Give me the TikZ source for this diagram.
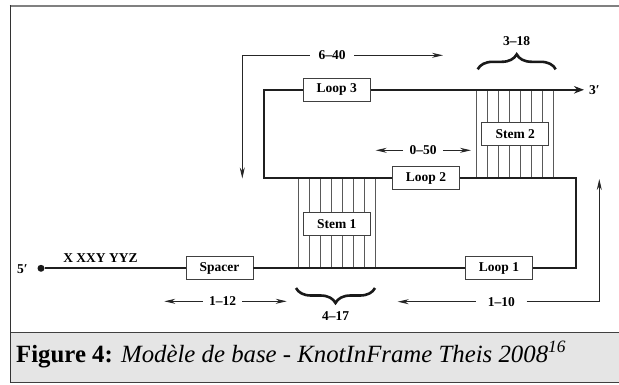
\documentclass[tikz,border=0pt]{standalone}
\usepackage{fontspec}
\setmainfont{Liberation Serif}
\usetikzlibrary{arrows.meta,decorations.pathreplacing}
\begin{document}
\begin{tikzpicture}[x=1pt,y=-1pt,
  box/.style={draw=black!75,line width=0.9pt,fill=white,minimum width=67pt,minimum height=23pt,inner sep=0pt,font=\fontsize{13.5}{14}\selectfont\bfseries},
  lbl/.style={font=\fontsize{13.5}{14}\selectfont\bfseries,inner ysep=1pt},
  strand/.style={line width=1.7pt,black!88},
  stemline/.style={line width=0.9pt,black!65},
  dim/.style={line width=0.9pt,black!85},
  tipS/.style={-{Stealth[length=11pt,width=5pt]}},
  tipB/.style={-{Stealth[length=10pt,width=7.5pt]}},
  bracestyle/.style={line width=2.6pt,black!90,decorate,decoration={brace,amplitude=15pt}}
]
\useasboundingbox (0,0) rectangle (619,384);
% frame and caption band
\fill[black!10] (10.3,332.7) rectangle (619,382.3);
\draw[line width=1.2pt,black!75] (10.3,332.7) -- (619,332.7);
\draw[line width=1.2pt,black!75] (10.3,382.3) -- (619,382.3);
\draw[line width=2pt,black!50] (9.5,5.7) -- (619,5.7);
\draw[line width=1.4pt,black!80] (10.3,5) -- (10.3,383);
\node[anchor=base west,inner sep=0pt,font=\fontsize{24.8}{26}\selectfont] (cap) at (16,362)
  {\textbf{Figure 4:} \textit{Modèle de base - KnotInFrame Theis 2008\textsuperscript{16}}};
% stem lines
\foreach \i in {0,...,7} {
  \draw[stemline] ({298.3+11*\i},178.3) -- ({298.3+11*\i},268.3);
  \draw[stemline] ({476.7+11*\i},89.8) -- ({476.7+11*\i},178.3);
}
% boxes
\node[box] (spacer) at (219.5,268.3) {Spacer};
\node[box] (loop1) at (499,268.3) {Loop 1};
\node[box] (loop2) at (426,178.3) {Loop 2};
\node[box] (loop3) at (336.7,89.8) {Loop 3};
\node[box] (stem1) at (336.8,223.7) {Stem 1};
\node[box] (stem2) at (515.3,134.2) {Stem 2};
% strand
\node[circle,fill=black!90,inner sep=0pt,minimum size=7pt] (dot) at (41,268.3) {};
\coordinate (cBR) at (576.3,268.3);
\coordinate (cMR) at (576.3,178.3);
\coordinate (cML) at (264,178.3);
\coordinate (cTL) at (264,89.8);
\coordinate (end3) at (584,89.8);
\draw[strand] (dot) -- (spacer);
\draw[strand] (spacer) -- (loop1);
\draw[strand,line join=miter] (loop1) -- (cBR) -- (cMR) -- (loop2);
\draw[strand,line join=miter] (loop2) -- (cML) -- (cTL) -- (loop3);
\draw[strand,tipB] (loop3) -- (end3);
\node[lbl] (p5) at (22.5,268.8) {5′};
\node[lbl] (p3) at (594.5,89.8) {3′};
\node[lbl,anchor=base] (seq) at (100.5,262) {X XXY YYZ};
% dimensions
\node[lbl,inner xsep=8.5pt] (d640) at (332,55.3) {6–40};
\coordinate (d640a) at (242.3,178.5);
\coordinate (d640b) at (443,55.3);
\draw[dim,tipS] (d640.west) -| (d640a);
\draw[dim,tipS] (d640.east) -- (d640b);
\node[lbl,inner xsep=6.2pt] (d050) at (423,150.3) {0–50};
\coordinate (d050a) at (375.7,150.3);
\coordinate (d050b) at (471,150.3);
\draw[dim,tipS] (d050.west) -- (d050a);
\draw[dim,tipS] (d050.east) -- (d050b);
\node[lbl,inner xsep=6pt] (d112) at (222.5,301.3) {1–12};
\coordinate (d112a) at (164.3,301.3);
\coordinate (d112b) at (286.7,301.3);
\draw[dim,tipS] (d112.west) -- (d112a);
\draw[dim,tipS] (d112.east) -- (d112b);
\node[lbl,inner xsep=11.7pt] (d110) at (501.3,301.7) {1–10};
\coordinate (d110a) at (397.7,301.7);
\coordinate (d110b) at (599.3,179);
\draw[dim,tipS] (d110.west) -- (d110a);
\draw[dim,tipS] (d110.east) -| (d110b);
% braces
\coordinate (b1a) at (477.7,69.3);
\coordinate (b1b) at (555.7,69.3);
\draw[bracestyle] (b1a) -- (b1b);
\node[lbl] (n318) at (516.5,41.2) {3–18};
\coordinate (b2a) at (375,288);
\coordinate (b2b) at (296,288);
\draw[bracestyle] (b2a) -- (b2b);
\node[lbl] (n417) at (335.6,316.3) {4–17};
\end{tikzpicture}
\end{document}
